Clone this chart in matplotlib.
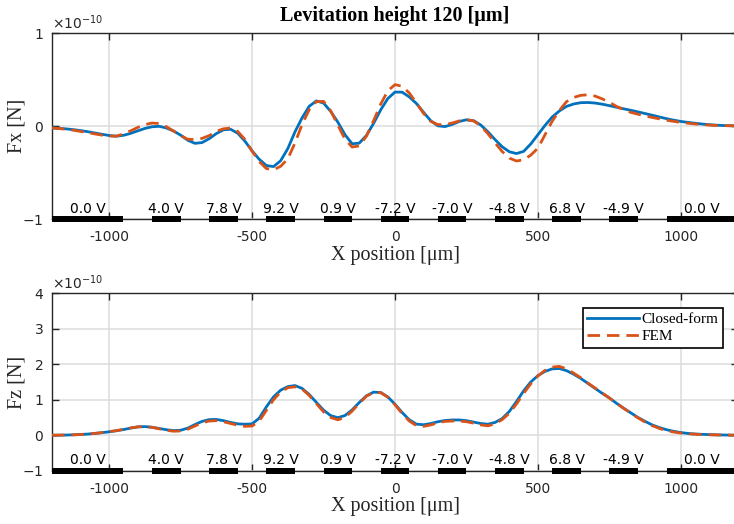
import numpy as np
import matplotlib
matplotlib.use('Agg')
import matplotlib.pyplot as plt
from matplotlib.ticker import ScalarFormatter

plt.rcParams['axes.unicode_minus'] = False

# position along the track [um], sampled every 25 um
x_um = np.arange(-1200, 1201, 25)

# horizontal force, closed-form model [x1e-10 N]
fx_closed = [
    -0.018, -0.022, -0.028, -0.036, -0.046, -0.058, -0.072, -0.086, -0.099, -0.106,
    -0.097, -0.076, -0.049, -0.023, -0.005, 0.000, -0.018, -0.050, -0.095, -0.150,
    -0.183, -0.175, -0.133, -0.078, -0.038, -0.032, -0.075, -0.160, -0.264, -0.355,
    -0.422, -0.433, -0.370, -0.240, -0.060, 0.091, 0.216, 0.273, 0.250, 0.160,
    0.045, -0.090, -0.188, -0.181, -0.099, 0.031, 0.177, 0.299, 0.368, 0.367,
    0.316, 0.245, 0.150, 0.060, 0.005, -0.003, 0.020, 0.052, 0.070, 0.060,
    0.014, -0.059, -0.143, -0.220, -0.274, -0.293, -0.270, -0.190, -0.090, 0.010,
    0.100, 0.165, 0.214, 0.240, 0.254, 0.256, 0.250, 0.238, 0.222, 0.205,
    0.188, 0.172, 0.155, 0.137, 0.119, 0.100, 0.082, 0.066, 0.052, 0.042,
    0.033, 0.024, 0.017, 0.012, 0.008, 0.006, 0.005,
]

# horizontal force, FEM [x1e-10 N]
fx_fem = [
    -0.018, -0.024, -0.032, -0.042, -0.055, -0.068, -0.082, -0.095, -0.105, -0.106,
    -0.082, -0.049, -0.012, 0.018, 0.035, 0.030, -0.004, -0.051, -0.100, -0.139,
    -0.142, -0.130, -0.100, -0.053, -0.027, -0.018, -0.056, -0.142, -0.267, -0.380,
    -0.454, -0.468, -0.430, -0.350, -0.180, 0.020, 0.180, 0.265, 0.268, 0.167,
    0.012, -0.138, -0.223, -0.210, -0.106, 0.059, 0.239, 0.382, 0.448, 0.431,
    0.358, 0.250, 0.138, 0.053, 0.018, 0.020, 0.035, 0.058, 0.070, 0.058,
    0.005, -0.079, -0.178, -0.271, -0.342, -0.373, -0.360, -0.310, -0.235, -0.090,
    0.055, 0.170, 0.265, 0.310, 0.333, 0.339, 0.325, 0.295, 0.258, 0.214,
    0.180, 0.150, 0.130, 0.112, 0.095, 0.080, 0.065, 0.053, 0.042, 0.033,
    0.025, 0.018, 0.013, 0.009, 0.007, 0.006, 0.005,
]

# vertical force, closed-form model [x1e-10 N]
fz_closed = [
    0.000, 0.002, 0.005, 0.012, 0.020, 0.032, 0.050, 0.072, 0.097, 0.125,
    0.160, 0.200, 0.235, 0.243, 0.225, 0.190, 0.155, 0.131, 0.140, 0.200,
    0.300, 0.390, 0.440, 0.445, 0.410, 0.360, 0.320, 0.310, 0.320, 0.480,
    0.800, 1.080, 1.270, 1.370, 1.400, 1.319, 1.147, 0.925, 0.708, 0.552,
    0.495, 0.555, 0.715, 0.923, 1.110, 1.214, 1.203, 1.079, 0.874, 0.640,
    0.435, 0.312, 0.295, 0.330, 0.380, 0.415, 0.430, 0.430, 0.410, 0.370,
    0.330, 0.310, 0.360, 0.470, 0.670, 0.950, 1.250, 1.500, 1.680, 1.800,
    1.870, 1.880, 1.820, 1.720, 1.600, 1.460, 1.320, 1.180, 1.050, 0.900,
    0.760, 0.630, 0.500, 0.390, 0.290, 0.215, 0.155, 0.110, 0.075, 0.050,
    0.035, 0.025, 0.017, 0.010, 0.006, 0.003, 0.000,
]

# vertical force, FEM [x1e-10 N]
fz_fem = [
    0.000, 0.002, 0.006, 0.012, 0.021, 0.034, 0.052, 0.074, 0.100, 0.130,
    0.165, 0.205, 0.235, 0.243, 0.222, 0.180, 0.140, 0.112, 0.120, 0.170,
    0.260, 0.350, 0.400, 0.410, 0.380, 0.330, 0.280, 0.250, 0.260, 0.400,
    0.700, 1.000, 1.220, 1.340, 1.365, 1.300, 1.120, 0.890, 0.660, 0.500,
    0.435, 0.500, 0.680, 0.900, 1.100, 1.205, 1.200, 1.070, 0.860, 0.610,
    0.400, 0.270, 0.250, 0.290, 0.350, 0.390, 0.400, 0.400, 0.380, 0.340,
    0.290, 0.265, 0.320, 0.440, 0.620, 0.880, 1.180, 1.450, 1.670, 1.830,
    1.920, 1.940, 1.870, 1.750, 1.620, 1.470, 1.330, 1.190, 1.050, 0.900,
    0.760, 0.620, 0.490, 0.370, 0.270, 0.190, 0.130, 0.090, 0.060, 0.040,
    0.028, 0.018, 0.012, 0.008, 0.005, 0.002, 0.000,
]

# electrode extents [um] and applied voltages
elec_left = [-1200, -850, -650, -450, -250, -50, 150, 350, 550, 750, 950]
elec_right = [-950, -750, -550, -350, -150, 50, 250, 450, 650, 850, 1200]
elec_volts = ['0.0 V', '4.0 V', '7.8 V', '9.2 V', '0.9 V', '-7.2 V',
              '-7.0 V', '-4.8 V', '6.8 V', '-4.9 V', '0.0 V']

scale = 1e-10
blue = '#0072BD'
orange = '#D95319'
axcol = '#262626'
serif = 'Liberation Serif'

fig = plt.figure(figsize=(7.34, 5.24), dpi=100)
W, H = 734.0, 524.0
ax1 = fig.add_axes([52 / W, 1 - 219.3 / H, 686 / W, 186 / H])
ax2 = fig.add_axes([52 / W, 1 - 470.7 / H, 686 / W, 177.4 / H])


def style_axes(ax, yticks, ylabel):
    ax.set_xlim(-1200, 1200)
    ax.set_ylim(yticks[0] * scale, yticks[-1] * scale)
    ax.set_xticks([-1000, -500, 0, 500, 1000])
    ax.set_yticks(np.array(yticks) * scale)
    fmt = ScalarFormatter(useMathText=True)
    fmt.set_powerlimits((0, 0))
    ax.yaxis.set_major_formatter(fmt)
    ax.yaxis.get_offset_text().set_fontsize(10)
    ax.yaxis.get_offset_text().set_color(axcol)
    ax.grid(True, color='#dcdcdc', linewidth=1.1)
    ax.set_axisbelow(True)
    ax.tick_params(direction='in', length=5, width=1.0, top=True, right=True,
                   labelsize=10, colors=axcol, pad=8)
    ax.tick_params(axis='y', pad=6)
    for s in ax.spines.values():
        s.set_color(axcol)
        s.set_linewidth(1.0)
    ax.set_ylabel(ylabel, family=serif, fontsize=14.5, color=axcol)
    ax.yaxis.set_label_coords(-0.037, 0.5)
    ax.set_xlabel('X position [μm]', family=serif, fontsize=14.5, color=axcol,
                  labelpad=1)

    # electrodes along the bottom edge with their voltages
    ybar = yticks[0] * scale
    for x0, x1, v in zip(elec_left, elec_right, elec_volts):
        ax.plot([x0, x1], [ybar, ybar], color='k', linewidth=4.3,
                solid_capstyle='butt', clip_on=False, zorder=5)
        ax.annotate(v, xy=((x0 + x1) / 2, ybar), xytext=(0, 4.8),
                    textcoords='offset points', ha='center', va='baseline',
                    fontsize=10, color='k')


style_axes(ax1, [-1, 0, 1], 'Fx [N]')
style_axes(ax2, [-1, 0, 1, 2, 3, 4], 'Fz [N]')

ax1.plot(x_um, np.array(fx_closed) * scale, color=blue, linewidth=2.0,
         label='Closed-form', zorder=3)
ax1.plot(x_um, np.array(fx_fem) * scale, color=orange, linewidth=2.0,
         dashes=(4.5, 2.5), label='FEM', zorder=3)
ax2.plot(x_um, np.array(fz_closed) * scale, color=blue, linewidth=2.0,
         label='Closed-form', zorder=3)
ax2.plot(x_um, np.array(fz_fem) * scale, color=orange, linewidth=2.0,
         dashes=(4.5, 2.5), label='FEM', zorder=3)

ax1.set_title('Levitation height 120 [μm]', family=serif, fontweight='bold',
              fontsize=14.5, color='k', y=1.0, pad=9)

leg = ax2.legend(loc='upper right', bbox_to_anchor=(0.978, 0.917),
                 borderaxespad=0, prop={'family': serif, 'size': 11},
                 fancybox=False, framealpha=1, edgecolor='k',
                 handlelength=3.4, handletextpad=0.15, labelspacing=0.2,
                 borderpad=0.3)
leg.get_frame().set_linewidth(1.2)

fig.savefig('out.png', dpi=100)
